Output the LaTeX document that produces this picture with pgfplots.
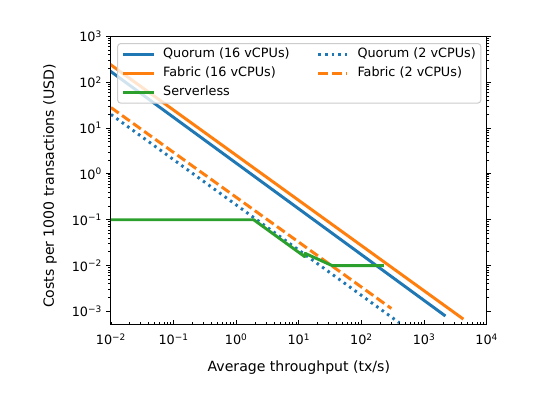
\documentclass[border=0pt]{standalone}
\usepackage{fontspec}
\setmainfont{DejaVu Sans}
\usepackage{pgfplots}
\pgfplotsset{compat=1.18}
\definecolor{tabblue}{HTML}{1F77B4}
\definecolor{taborange}{HTML}{FF7F0E}
\definecolor{tabgreen}{HTML}{2CA02C}
\begin{document}
\begin{tikzpicture}
\begin{axis}[
  scale only axis, width=292.5bp, height=224.3bp,
  xmode=log, ymode=log,
  xmin=0.01, xmax=10000, ymin=5.2e-4, ymax=1000,
  axis line style={line width=0.8bp},
  tick align=outside,
  xtick pos=left, ytick pos=both,
  major tick length=3.5bp, minor tick length=2bp,
  every major tick/.append style={line width=0.8bp, black},
  every minor tick/.append style={line width=0.6bp, black},
  major x tick style={yshift=3.5bp},
  minor x tick style={yshift=2bp},
  xtick={0.01,0.1,1,10,100,1000,10000},
  xticklabels={10\textsuperscript{−2},10\textsuperscript{−1},10\textsuperscript{0},10\textsuperscript{1},10\textsuperscript{2},10\textsuperscript{3},10\textsuperscript{4}},
  ytick={0.001,0.01,0.1,1,10,100,1000},
  yticklabels={10\textsuperscript{−3},10\textsuperscript{−2},10\textsuperscript{−1},10\textsuperscript{0},10\textsuperscript{1},10\textsuperscript{2},10\textsuperscript{3}},
  tick label style={font=\fontsize{10}{12}\selectfont},
  xlabel={Average throughput (tx/s)},
  ylabel={Costs per 1000 transactions (USD)},
  xlabel style={font=\fontsize{11}{13}\selectfont, at={(axis description cs:0.5,0)}, anchor=base, yshift=-36.9bp},
  ylabel style={font=\fontsize{11}{13}\selectfont, at={(axis description cs:-0.1624,0.48)}, anchor=center},
  legend columns=2,
  legend cell align=left,
  legend style={at={(0.9859,0.9768)}, anchor=north east, draw=black!20, line width=0.8bp,
    rounded corners=2.5bp, fill=white, fill opacity=0.8, text opacity=1,
    inner xsep=3.9bp, inner ysep=1bp, font=\fontsize{10}{12}\selectfont,
    nodes={inner xsep=0pt, inner ysep=2.5bp, text height=7.6bp, text depth=2.2bp, anchor=west},
    /tikz/column 1/.style={column sep=7bp},
    /tikz/column 2/.style={column sep=21.2bp},
    /tikz/column 3/.style={column sep=7bp}},
  legend image code/.code={\draw[#1] (0bp,0bp) -- (22.3bp,0bp);},
]
\coordinate (sw) at (rel axis cs:0,0);
\addplot[tabblue, line width=2.3bp, line cap=rect] coordinates {(0.01,170) (2100,8.3e-4)};
\addlegendentry{Quorum (16 vCPUs)}
\addplot[tabblue, line width=2.3bp, line cap=butt, dash pattern=on 2bp off 3.2bp] coordinates {(0.01,19.8) (400,5.7e-4)};
\addlegendentry{Quorum (2 vCPUs)}
\addplot[taborange, line width=2.3bp, line cap=rect] coordinates {(0.01,238) (4060,7.1e-4)};
\addlegendentry{Fabric (16 vCPUs)}
\addplot[taborange, line width=2.3bp, line cap=butt, dash pattern=on 7.4bp off 3.2bp] coordinates {(0.01,28) (300,1.16e-3)};
\addlegendentry{Fabric (2 vCPUs)}
\addplot[tabgreen, line width=2.3bp, line cap=rect, line join=round] coordinates {(0.01,0.1) (1.9,0.1) (12.4,0.0157) (12.6,0.0185) (34,0.01) (215,0.01)};
\addlegendentry{Serverless}
\end{axis}
\pgfresetboundingbox
\path (sw) ++(-86.4bp,-57.3bp) rectangle ++(420.4bp,309.9bp);
\end{tikzpicture}
\end{document}
